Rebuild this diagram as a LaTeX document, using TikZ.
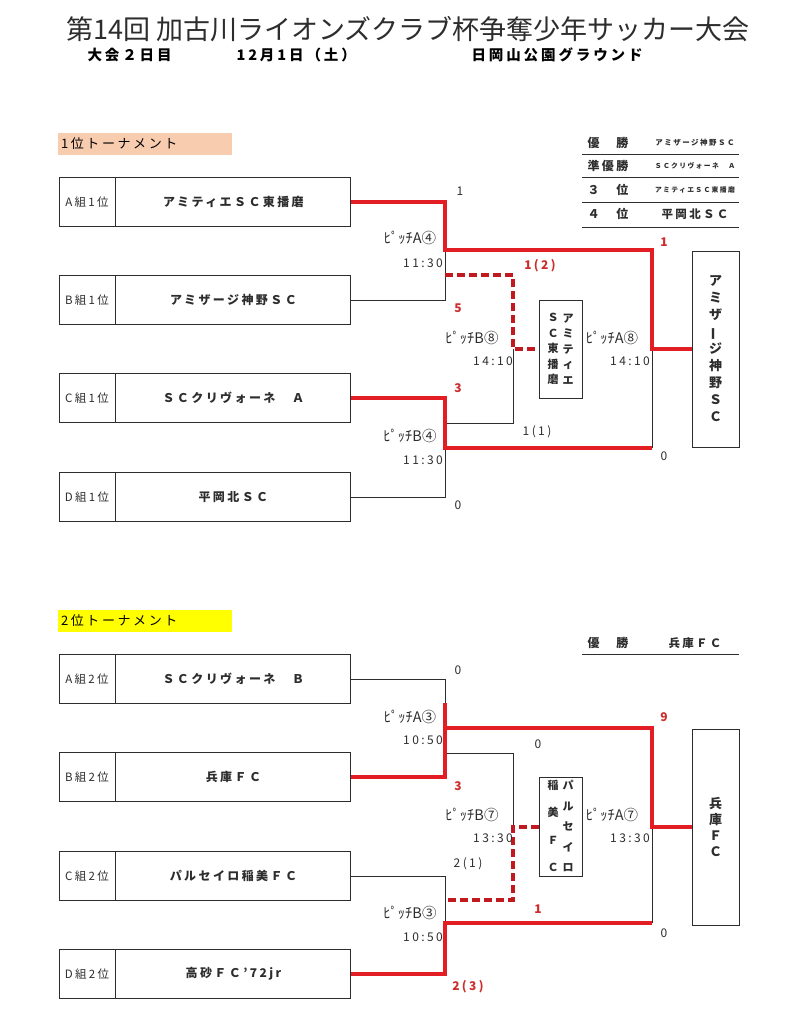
\documentclass[tikz,border=0pt]{standalone}
\usepackage{fontspec}
\setmainfont{Noto Sans CJK JP}[LetterSpace=20]
\newfontfamily\titlefont{Noto Sans CJK JP}
\usetikzlibrary{positioning}

\definecolor{winred}{RGB}{226,30,36}
\definecolor{numred}{RGB}{205,45,45}
\definecolor{rankone}{RGB}{248,204,174}
\definecolor{ranktwo}{RGB}{255,255,0}
\definecolor{ink}{RGB}{45,45,45}

\tikzset{
  grp/.style={draw=ink, line width=0.9pt, minimum width=56pt, minimum height=49pt, inner sep=0pt, text=ink, font=\fontsize{11.5}{11.5}\selectfont},
  team/.style={grp, minimum width=235pt, font=\bfseries\fontsize{12}{12}\selectfont},
  head/.style={minimum width=174pt, minimum height=22pt, text width=168pt, inner xsep=3pt, inner ysep=0pt, align=left, font=\fontsize{13}{13}\selectfont},
  win/.style={winred, line width=4pt},
  lose/.style={ink, line width=0.8pt},
  third/.style={winred!85!black, line width=3.2pt, dash pattern=on 8pt off 4pt},
  pitch/.style={text=ink, font=\titlefont\fontsize{14.5}{14.5}\selectfont},
  score/.style={text=ink, font=\fontsize{12}{12}\selectfont},
  rscore/.style={text=numred, font=\bfseries\fontsize{12}{12}\selectfont},
  vbox/.style={draw=ink, line width=0.9pt, inner sep=0pt},
  vcol/.style={inner sep=0pt, align=center, text=ink, font=\bfseries\fontsize{11}{15.5}\selectfont},
  reslab/.style={anchor=west, text=ink, font=\bfseries\fontsize{12}{12}\selectfont},
}

\begin{document}
\begin{tikzpicture}[x=1pt,y=-1pt]
\path[fill=white] (0,0) rectangle (792,1024);

% title
\node[font=\titlefont\fontsize{27}{27}\selectfont, text=ink] (title) at (408,29) {第14回 加古川ライオンズクラブ杯争奪少年サッカー大会};
\node[anchor=west, font=\bfseries\fontsize{14.5}{14.5}\selectfont] (day) at (84,55) {大会２日目};
\node[anchor=west, font=\bfseries\fontsize{14.5}{14.5}\selectfont] (date) at (233,55) {12月1日（土）};
\node[anchor=west, font=\bfseries\fontsize{14.5}{14.5}\selectfont] (venue) at (468,55) {日岡山公園グラウンド};

%%%% 1st place tournament
\node[head, fill=rankone] (h1) at (145,144) {1位トーナメント};

\node[reslab] (r1) at (584,143) {優　勝};
\node[reslab] (r2) at (584,166) {準優勝};
\node[reslab] (r3) at (584,190) {３　位};
\node[reslab] (r4) at (584,214) {４　位};
\node[text=ink, font=\bfseries\fontsize{7.5}{7.5}\selectfont] (r1t) at (695,143) {アミザージ神野ＳＣ};
\node[text=ink, font=\bfseries\fontsize{6.8}{6.8}\selectfont] (r2t) at (695,166) {ＳＣクリヴォーネ　Ａ};
\node[text=ink, font=\bfseries\fontsize{6.8}{6.8}\selectfont] (r3t) at (695,190) {アミティエＳＣ東播磨};
\node[text=ink, font=\bfseries\fontsize{11.5}{11.5}\selectfont] (r4t) at (695,214) {平岡北ＳＣ};
\draw[lose] (582,154) -- (739,154);
\draw[lose] (582,177) -- (739,177);
\draw[lose] (582,202) -- (739,202);
\draw[lose] (582,227) -- (739,227);

\node[grp] (a1l) at (87,202) {A組1位};
\node[team, right=0pt of a1l] (a1) {アミティエＳＣ東播磨};
\node[grp] (b1l) at (87,300) {B組1位};
\node[team, right=0pt of b1l] (b1) {アミザージ神野ＳＣ};
\node[grp] (c1l) at (87,398) {C組1位};
\node[team, right=0pt of c1l] (c1) {ＳＣクリヴォーネ　Ａ};
\node[grp] (d1l) at (87,497) {D組1位};
\node[team, right=0pt of d1l] (d1) {平岡北ＳＣ};

\node[vbox, minimum width=43pt, minimum height=98pt] (t1) at (560.5,349) {};
\node[vcol] (t1r) at (568,349) {ア\\ミ\\テ\\ィ\\エ};
\node[vcol] (t1l) at (553,349) {Ｓ\\Ｃ\\東\\播\\磨};
\node[vbox, minimum width=47pt, minimum height=196pt, align=center, text=ink, font=\bfseries\fontsize{13}{17}\selectfont] (w1) at (715.5,349) {ア\\ミ\\ザ\\\rotatebox[origin=c]{90}{ー}\\ジ\\神\\野\\Ｓ\\Ｃ};

\coordinate (m1) at (445,250);
\coordinate (m2) at (445,448);
\coordinate (fin1) at (652,349);
\coordinate (thr1) at (513,349);
\coordinate (l1) at (445,275);
\coordinate (l2) at (445,423);

\draw[lose] (b1.east) -| (m1);
\draw[lose] (d1.east) -| (m2);
\draw[lose] (thr1) |- (l2);
\draw[lose] (m2 -| fin1) -- (fin1);
\draw[win] (a1.east) -| (m1) -| (fin1) -- (w1.west);
\draw[win] (c1.east) -| (m2) -- (m2 -| fin1);
\draw[third] (l1) -| (thr1) -- (t1.west);

\node[score] (s1) at (460,191) {1};
\node[pitch] (p1) at (410,238) {ﾋﾟｯﾁA④};
\node[score] (k1) at (423,263) {11:30};
\node[rscore] (s2) at (540,266) {1(2)};
\node[rscore] (s3) at (458,308) {5};
\node[pitch] (p2) at (472,338) {ﾋﾟｯﾁB⑧};
\node[score] (k2) at (493,361) {14:10};
\node[pitch] (p3) at (612,338) {ﾋﾟｯﾁA⑧};
\node[score] (k3) at (630,361) {14:10};
\node[rscore] (s4) at (458,388) {3};
\node[score] (s5) at (537,432) {1(1)};
\node[pitch] (p4) at (410,436) {ﾋﾟｯﾁB④};
\node[score] (k4) at (423,460) {11:30};
\node[score] (s6) at (458,505) {0};
\node[rscore] (s7) at (664,242) {1};
\node[score] (s8) at (664,456) {0};

%%%% 2nd place tournament
\node[head, fill=ranktwo] (h2) at (145,621) {2位トーナメント};

\node[reslab] (r5) at (584,643) {優　勝};
\node[text=ink, font=\bfseries\fontsize{11.5}{11.5}\selectfont] (r5t) at (695,643) {兵庫ＦＣ};
\draw[lose] (582,654) -- (739,654);

\node[grp] (a2l) at (87,679) {A組2位};
\node[team, right=0pt of a2l] (a2) {ＳＣクリヴォーネ　Ｂ};
\node[grp] (b2l) at (87,777) {B組2位};
\node[team, right=0pt of b2l] (b2) {兵庫ＦＣ};
\node[grp] (c2l) at (87,876) {C組2位};
\node[team, right=0pt of c2l] (c2) {パルセイロ稲美ＦＣ};
\node[grp] (d2l) at (87,974) {D組2位};
\node[team, right=0pt of d2l] (d2) {高砂ＦＣ’72jr};

\node[vbox, minimum width=43pt, minimum height=99pt] (t2) at (560.5,827) {};
\node[vcol, font=\bfseries\fontsize{11}{20.5}\selectfont] (t2r) at (568,826) {パ\\ル\\セ\\イ\\ロ};
\node[vcol, font=\bfseries\fontsize{11}{27.3}\selectfont] (t2l) at (553,826) {稲\\美\\Ｆ\\Ｃ};
\node[vbox, minimum width=47pt, minimum height=196pt, align=center, text=ink, font=\bfseries\fontsize{13}{16}\selectfont] (w2) at (715.5,827) {兵\\庫\\Ｆ\\Ｃ};

\coordinate (m3) at (445,728);
\coordinate (m4) at (445,923);
\coordinate (fin2) at (652,827);
\coordinate (thr2) at (513,827);
\coordinate (l3) at (445,753);
\coordinate (l4) at (445,900);
\coordinate (j1) at (445,703);

\draw[lose] (a2.east) -| (j1);
\draw[lose] (l3) -| (thr2);
\draw[lose] (c2.east) -| (m4);
\draw[lose] (m4 -| fin2) -- (fin2);
\draw[win] (b2.east) -| (j1);
\draw[win] (m3) -| (fin2) -- (w2.west);
\draw[win] (d2.east) -| (m4) -- (m4 -| fin2);
\draw[third] (t2.west) -- (thr2) |- (l4);

\node[score] (s9) at (458,670) {0};
\node[pitch] (p5) at (410,717) {ﾋﾟｯﾁA③};
\node[score] (k5) at (423,740) {10:50};
\node[rscore] (s10) at (664,717) {9};
\node[score] (s11) at (538,744) {0};
\node[rscore] (s12) at (458,786) {3};
\node[pitch] (p6) at (472,815) {ﾋﾟｯﾁB⑦};
\node[score] (k6) at (493,838) {13:30};
\node[pitch] (p7) at (612,815) {ﾋﾟｯﾁA⑦};
\node[score] (k7) at (630,838) {13:30};
\node[score] (s13) at (468,864) {2(1)};
\node[rscore] (s14) at (538,909) {1};
\node[pitch] (p8) at (410,913) {ﾋﾟｯﾁB③};
\node[score] (k8) at (423,937) {10:50};
\node[score] (s15) at (664,933) {0};
\node[rscore] (s16) at (468,987) {2(3)};
\end{tikzpicture}
\end{document}
